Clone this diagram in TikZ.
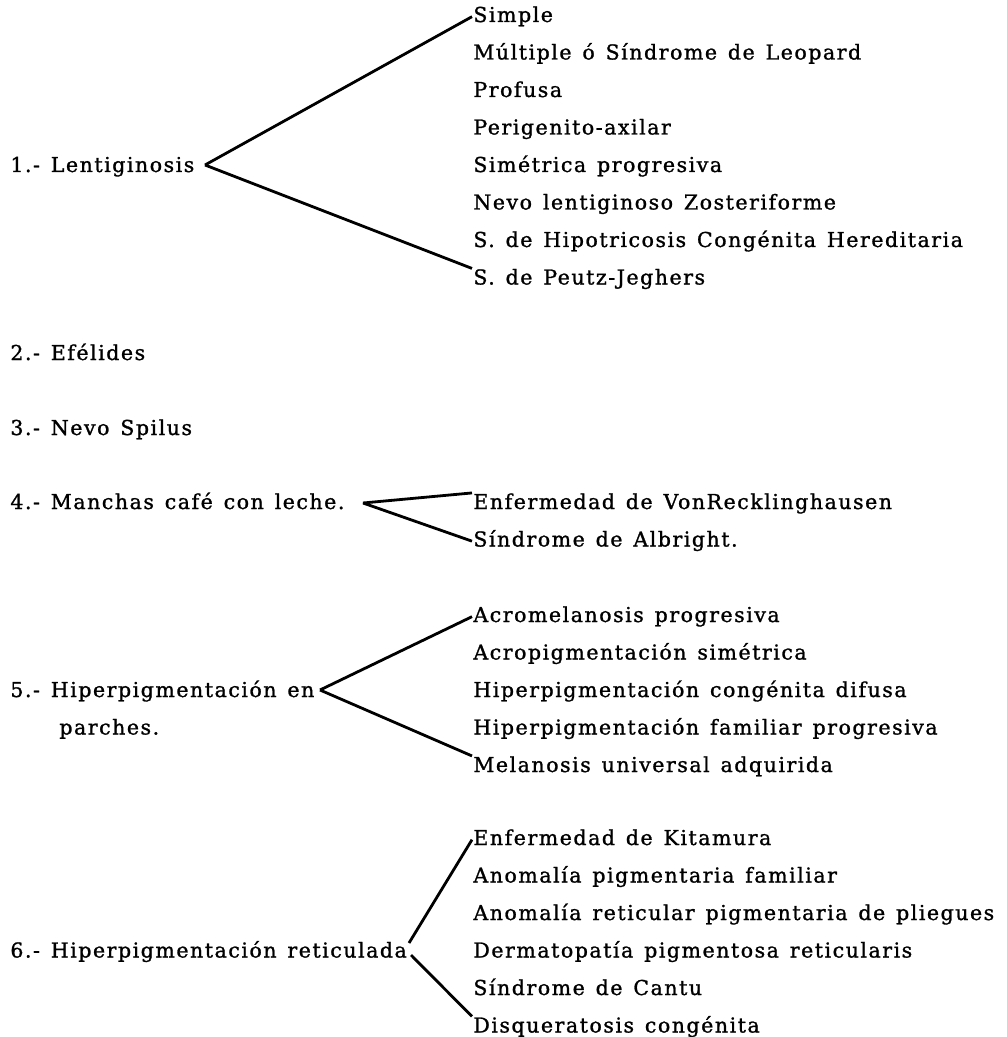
\documentclass[tikz,border=0pt]{standalone}
\usepackage{fontspec}
\setmainfont{DejaVu Serif}[LetterSpace=7.4, WordSpace=1.35, FakeBold=1.2]
\usetikzlibrary{positioning}

\begin{document}
\begin{tikzpicture}[x=0.75pt, y=-0.75pt, line width=2.1pt,
entry/.style ={anchor=base west, inner sep=0pt, text height=11pt, text depth=3pt,
font=\fontsize{15.4}{18}\selectfont}]
\useasboundingbox (0,0) rectangle (1006,1037);

% left column
\node[entry] (1) at (9,172) {1.- Lentiginosis};
\node[entry] (2) at (9,360) {2.- Efélides};
\node[entry] (3) at (9,435) {3.- Nevo Spilus};
\node[entry] (4) at (9,509) {4.- Manchas café con leche.};
\node[entry] (5) at (9,697) {5.- Hiperpigmentación en};
\node[entry] (5b) at (58,734.5) {parches.};
\node[entry] (6) at (9,957.5) {6.- Hiperpigmentación reticulada};

% right column
\node[entry] (1a) at (472,22) {Simple};
\node[entry] (1b) at (472,59.5) {Múltiple ó Síndrome de Leopard};
\node[entry] (1c) at (472,97) {Profusa};
\node[entry] (1d) at (472,134.5) {Perigenito-axilar};
\node[entry] (1e) at (472,172) {Simétrica progresiva};
\node[entry] (1f) at (472,209.5) {Nevo lentiginoso Zosteriforme};
\node[entry] (1g) at (472,247) {S. de Hipotricosis Congénita Hereditaria};
\node[entry] (1h) at (472,284.5) {S. de Peutz-Jeghers};

\node[entry] (4a) at (472,509) {Enfermedad de VonRecklinghausen};
\node[entry] (4b) at (472,546.5) {Síndrome de Albright.};

\node[entry] (5a) at (472,622) {Acromelanosis progresiva};
\node[entry] (5c) at (472,659.5) {Acropigmentación simétrica};
\node[entry] (5d) at (472,697) {Hiperpigmentación congénita difusa};
\node[entry] (5e) at (472,734.5) {Hiperpigmentación familiar progresiva};
\node[entry] (5f) at (472,772) {Melanosis universal adquirida};

\node[entry] (6a) at (472,845) {Enfermedad de Kitamura};
\node[entry] (6b) at (472,882.5) {Anomalía pigmentaria familiar};
\node[entry] (6c) at (472,920) {Anomalía reticular pigmentaria de pliegues};
\node[entry] (6d) at (472,957.5) {Dermatopatía pigmentosa reticularis};
\node[entry] (6e) at (472,995) {Síndrome de Cantu};
\node[entry] (6f) at (472,1032.5) {Disqueratosis congénita};

% branch points
\coordinate (a1) at (205,165);
\coordinate (a4) at (363,503);
\coordinate (a5) at (320,690);
\coordinate (a6) at (409,943);
\coordinate (b6) at (411,955);

\draw (a1) edge (1a.west);
\draw (a1) edge (1h.north west);
\draw (a4) edge (4a.north west);
\draw (a4) edge (4b.west);
\draw (a5) edge (5a.west);
\draw (a5) edge (5f.north west);
\draw (a6) edge (6a.west);
\draw (b6) edge (6f.north west);
\end{tikzpicture}
\end{document}
